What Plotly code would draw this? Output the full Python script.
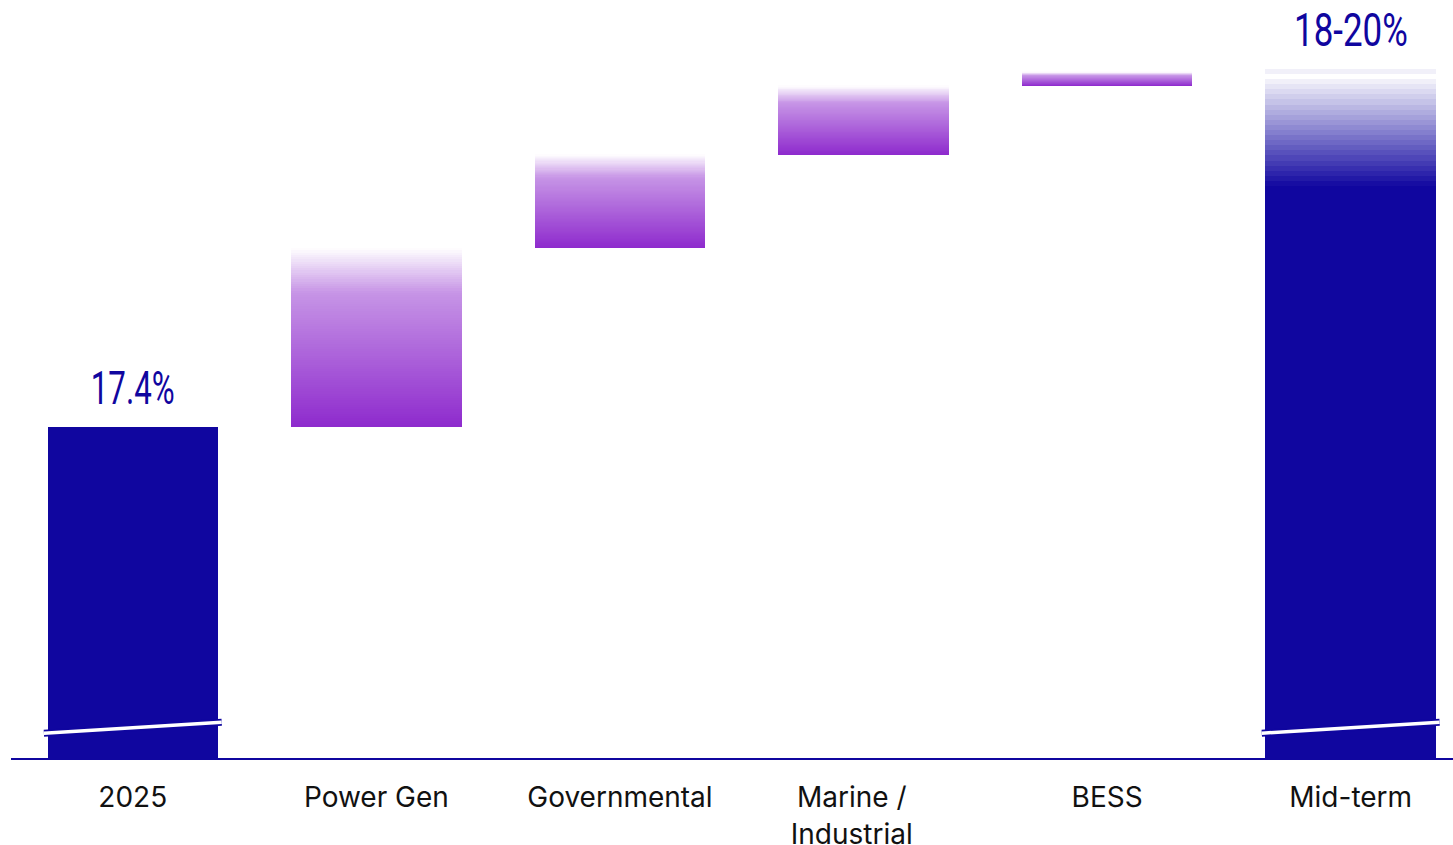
import plotly.graph_objects as go

# ---- data -------------------------------------------------------------
categories = ["2025", "Power Gen", "Governmental", "Marine /", "BESS", "Mid-term"]
category_second_line = ["", "", "", "Industrial", "", ""]
start_value = 17.4                      # 2025 level (%)
increments = [1.3, 0.68, 0.5, 0.1]      # Power Gen, Governmental, Marine / Industrial, BESS
midterm_high = 20.0                     # top of the mid-term range
midterm_solid_top = 19.15               # where the mid-term bar starts fading
value_labels = ["17.4%", "18-20%"]
axis_floor = 15.0                       # broken value axis starts here

# ---- style ------------------------------------------------------------
NAVY = (16, 6, 159)
PURPLE = (142, 42, 205)
BAR_WIDTH = 0.7
LABEL_FONT = "Inter, Noto Sans, sans-serif"
VALUE_FONT = "Roboto, Lato, sans-serif"


def tint(rgb, opacity):
    """Blend a colour with white and return an opaque css colour."""
    r, g, b = (round(255 - opacity * (255 - c)) for c in rgb)
    return f"rgb({r},{g},{b})"


def purple_fade(t):
    """Opacity of the increment bars, t = 0 at the bottom, 1 at the top."""
    if t < 0.75:
        return 1 - 0.5 * t / 0.75
    return 0.5 * (1 - t) / 0.25


xs, bases, heights, colors = [], [], [], []


def add_slice(x, base, height, color):
    xs.append(x)
    bases.append(base)
    heights.append(height)
    colors.append(color)


# solid totals
add_slice(0, axis_floor, start_value - axis_floor, tint(NAVY, 1))
n_cat = len(categories)
add_slice(n_cat - 1, axis_floor, midterm_solid_top - axis_floor + 0.01, tint(NAVY, 1))

# increment bars, each drawn as a stack of thin slices fading upwards
level = start_value
N_SLICES = 80
for i, inc in enumerate(increments, start=1):
    h = inc / N_SLICES
    for k in range(N_SLICES):
        t = (k + 0.5) / N_SLICES
        extra = 0.8 * h if k < N_SLICES - 1 else 0
        add_slice(i, level + k * h, h + extra, tint(PURPLE, purple_fade(t)))
    level += inc

# mid-term range: stepped fade from navy towards white
N_BANDS = 23
band = (midterm_high - midterm_solid_top) / N_BANDS
for k in range(N_BANDS):
    if k == N_BANDS - 1:
        op = 0.06
    elif k == N_BANDS - 2:
        op = 0.0
    else:
        op = 0.97 - k * (0.91 / (N_BANDS - 3))
    extra = 0.5 * band if k < N_BANDS - 1 else 0
    add_slice(n_cat - 1, midterm_solid_top + k * band, band + extra, tint(NAVY, op))

fig = go.Figure(
    go.Bar(
        x=xs,
        y=heights,
        base=bases,
        width=BAR_WIDTH,
        marker=dict(color=colors, line=dict(width=0)),
        hoverinfo="skip",
        showlegend=False,
    )
)

# axis-break marks on the two total bars
for xi in (0, n_cat - 1):
    for w, c in ((7, tint(NAVY, 1)), (3.5, "white")):
        fig.add_shape(
            type="line",
            xref="x", yref="y",
            x0=xi - 0.365, x1=xi + 0.365,
            y0=axis_floor + 0.18, y1=axis_floor + 0.26,
            line=dict(color=c, width=w),
        )

# value labels above the totals
for xi, yv, txt in ((0, start_value, value_labels[0]), (n_cat - 1, midterm_high, value_labels[1])):
    fig.add_annotation(
        x=xi, y=yv, xref="x", yref="y",
        text=txt, showarrow=False,
        yanchor="bottom", yshift=10,
        font=dict(family=VALUE_FONT, size=46, weight=400, color=tint(NAVY, 1)),
    )

tick_text = []
for a, b in zip(categories, category_second_line):
    if b:
        pad = "\u00a0" * 3
        tick_text.append(a + pad + "<br>" + b + pad)
    else:
        tick_text.append(a)

fig.update_layout(
    width=1453,
    height=845,
    margin=dict(l=11, r=0, t=0, b=87, autoexpand=False),
    paper_bgcolor="white",
    plot_bgcolor="white",
    barmode="overlay",
    bargap=0,
    xaxis=dict(
        range=[-0.5, 5.42],
        tickvals=list(range(n_cat)),
        ticktext=tick_text,
        showline=True,
        linecolor=tint(NAVY, 1),
        linewidth=1.5,
        showgrid=False,
        zeroline=False,
        ticks="",
        ticklabelstandoff=14,
        tickfont=dict(family=LABEL_FONT, size=28, color="#111111"),
        automargin=False,
        fixedrange=True,
    ),
    yaxis=dict(
        range=[axis_floor, 20.5],
        visible=False,
        showgrid=False,
        zeroline=False,
        automargin=False,
        fixedrange=True,
    ),
)

# condensed look for the value labels
condense_css = """
var s = document.createElement('style');
s.textContent = '.annotation-text { transform-box: fill-box; transform-origin: center; transform: scaleX(0.68); }'
  + ' .annotation[data-index="1"] .annotation-text { transform: scaleX(0.76); }';
document.head.appendChild(s);
"""

fig.write_html("out.html", post_script=condense_css)
